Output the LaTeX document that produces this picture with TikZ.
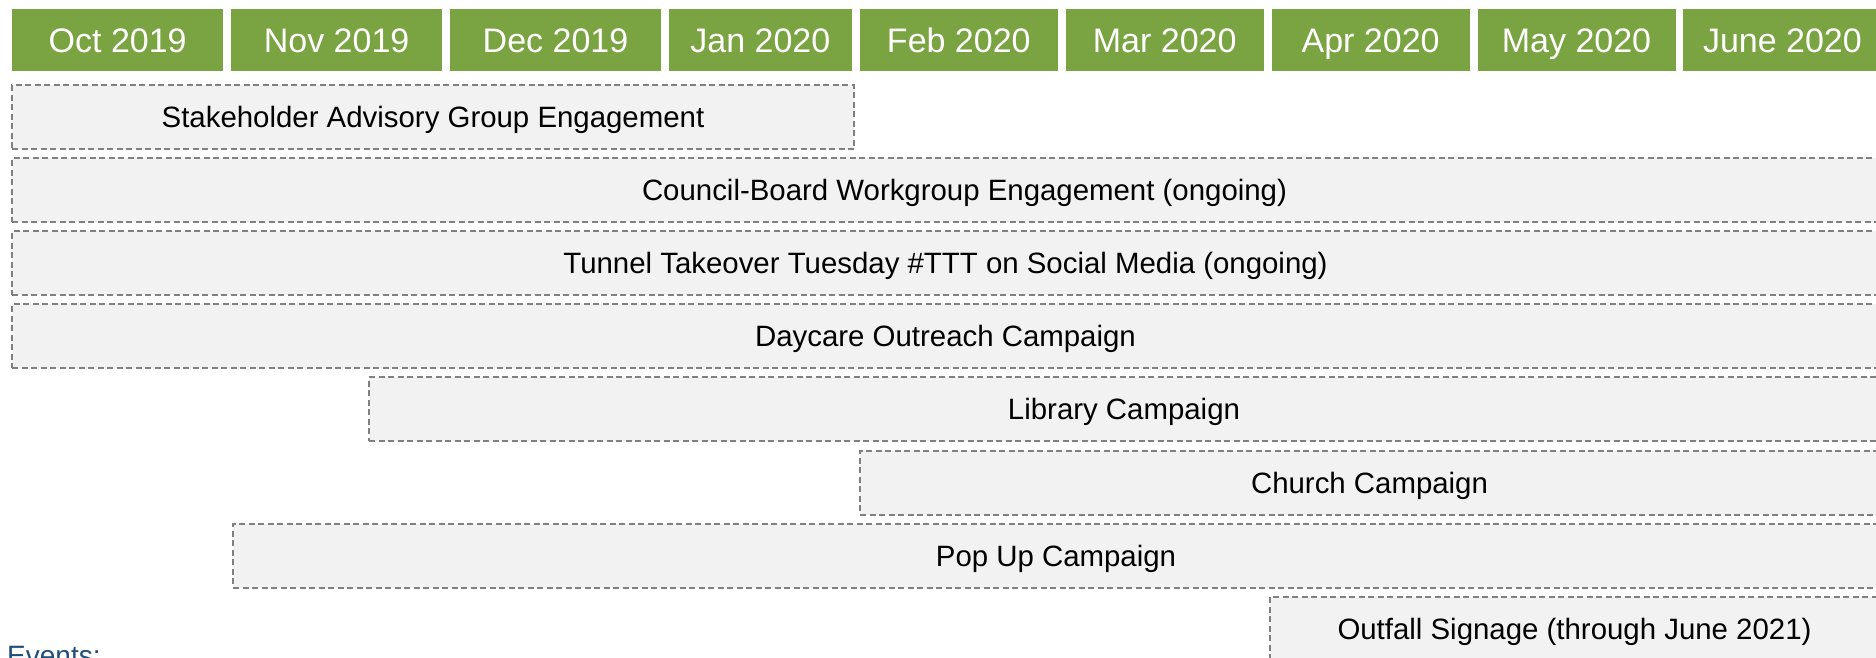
\documentclass[tikz,border=0pt]{standalone}
\usepackage{fontspec}
\setmainfont{Liberation Sans}
\usetikzlibrary{positioning}
\definecolor{monthgreen}{RGB}{122,164,65}
\definecolor{barfill}{RGB}{242,242,242}
\definecolor{bardash}{RGB}{128,128,128}
\definecolor{eventblue}{RGB}{31,78,121}
\tikzset{
  month/.style={fill=monthgreen,text=white,anchor=north west,minimum height=62pt,
    inner sep=0pt,text height=24pt,text depth=0pt,font=\fontsize{34}{40}\selectfont},
  bar/.style={fill=barfill,draw=bardash,line width=2pt,dash pattern=on 6pt off 3.5pt,
    anchor=north west,minimum height=64pt,inner sep=0pt,text height=21pt,text depth=0pt,
    font=\fontsize{29.4}{35}\selectfont},
}
\begin{document}
\begin{tikzpicture}[x=1pt,y=-1pt]
   \useasboundingbox (0,0) rectangle (1876,657);

   \node[month,name=oct,minimum width=211pt] at (12,9) {Oct 2019};
   \node[month,name=nov,minimum width=211pt,right=7.5pt of oct] {Nov 2019};
   \node[month,name=dec,minimum width=211pt,right=7.5pt of nov] {Dec 2019};
   \node[month,name=jan,minimum width=183pt,right=7.5pt of dec] {Jan 2020};
   \node[month,name=feb,minimum width=198pt,right=7.5pt of jan] {Feb 2020};
   \node[month,name=mar,minimum width=198pt,right=7.5pt of feb] {Mar 2020};
   \node[month,name=apr,minimum width=198pt,right=7.5pt of mar] {Apr 2020};
   \node[month,name=may,minimum width=198pt,right=7.5pt of apr] {May 2020};
   \node[month,name=jun,minimum width=198pt,right=7.5pt of may] {June 2020};

   \node[bar,name=advisory,minimum width=842pt]  at (11,84)    {Stakeholder Advisory Group Engagement};
   \node[bar,name=council,minimum width=1867pt]  at (11,157.1) {\hspace*{38pt}Council-Board Workgroup Engagement (ongoing)};
   \node[bar,name=tunnel,minimum width=1867pt]   at (11,230.2) {Tunnel Takeover Tuesday \#TTT on Social Media (ongoing)};
   \node[bar,name=daycare,minimum width=1867pt]  at (11,303.3) {Daycare Outreach Campaign};
   \node[bar,name=library,minimum width=1510pt]  at (368,376.4) {Library Campaign};
   \node[bar,name=church,minimum width=1019pt]   at (859,449.5) {Church Campaign};
   \node[bar,name=popup,minimum width=1646pt]    at (232,522.6) {Pop Up Campaign};
   \node[bar,name=outfall,minimum width=609pt]   at (1269,595.7) {Outfall Signage (through June 2021)};

   \node[anchor=north west,inner sep=0pt,text=eventblue,font=\fontsize{28}{34}\selectfont,name=events]
      at (7,646) {Events:};
\end{tikzpicture}
\end{document}
